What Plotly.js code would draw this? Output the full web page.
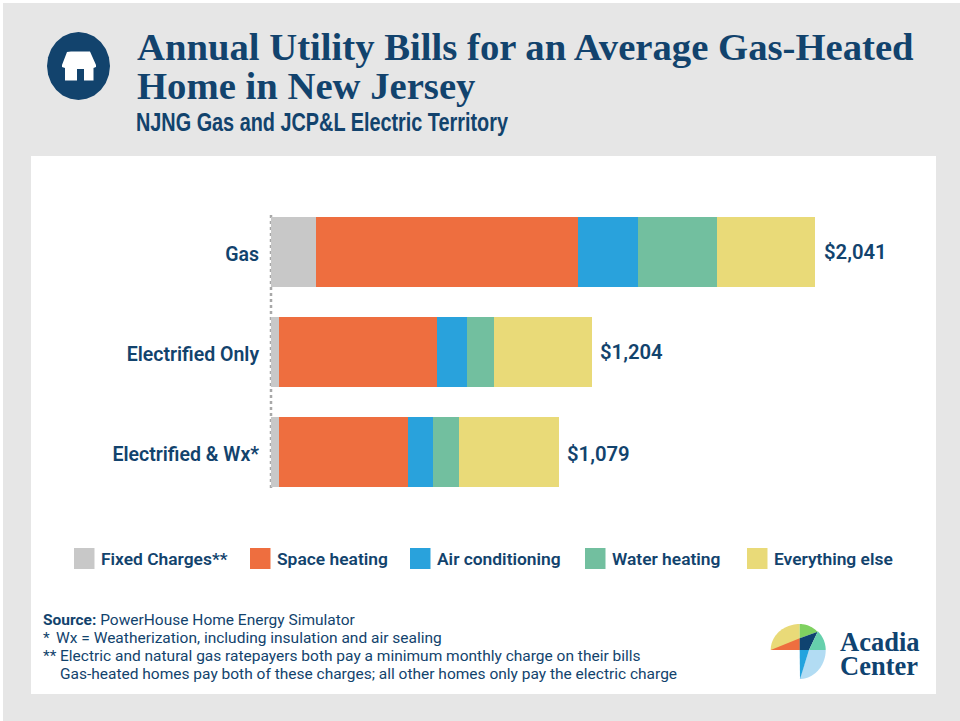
<!DOCTYPE html>
<html><head><meta charset="utf-8">
<script src="https://cdn.plot.ly/plotly-3.0.1.min.js"></script>
<style>html,body{margin:0;padding:0;background:#fff}#c{width:960px;height:721px}</style>
</head><body><div id="c"></div>
<script>
const categories = ['Gas', 'Electrified Only', 'Electrified & Wx*'];
const fixedCharges = [169, 30, 30];
const spaceHeating = [984, 591, 484];
const airConditioning = [225, 114, 95];
const waterHeating = [294, 101, 98];
const everythingElse = [369, 368, 372];
const totals = [2041, 1204, 1079];
const seriesNames = ['Fixed Charges**', 'Space heating', 'Air conditioning', 'Water heating', 'Everything else'];
const seriesValues = [fixedCharges, spaceHeating, airConditioning, waterHeating, everythingElse];
const seriesColors = ['#c8c8c8', '#ee6e3f', '#29a2dc', '#72bf9f', '#e9da78'];
const titleLine1 = 'Annual Utility Bills for an Average Gas-Heated';
const titleLine2 = 'Home in New Jersey';
const subtitleText = 'NJNG Gas and JCP&L Electric Territory';
const logoText = 'Acadia<br>Center';
const footnotes = [
  ['<b>Source:</b> PowerHouse Home Energy Simulator', 41, 620],
  ['*', 41, 638], ['Wx = Weatherization, including insulation and air sealing', 53.5, 638],
  ['**', 41, 656], ['Electric and natural gas ratepayers both pay a minimum monthly charge on their bills', 58, 656],
  ['Gas-heated homes pay both of these charges; all other homes only pay the electric charge', 58, 674]
];
const legendX = [74, 250, 410, 585, 747];

const W = 960, H = 721, NAVY = '#12436d', ML = 271, MT = 202, MB = 219, MR = 60;
const PW = W - ML - MR, PH = H - MT - MB;
const px = x => (x - ML) / PW, py = y => 1 - (y - MT) / PH;
const PXPERUNIT = 544 / 2041;

function rect(x0, y0, x1, y1, color, layer) {
  return {type: 'rect', xref: 'paper', yref: 'paper', x0: px(x0), x1: px(x1), y0: py(y0), y1: py(y1),
    fillcolor: color, line: {width: 0}, layer: layer || 'below'};
}
function poly(pts, color) {
  const d = pts.map((p, i) => (i ? 'L' : 'M') + px(p[0]).toFixed(5) + ',' + py(p[1]).toFixed(5)).join(' ') + ' Z';
  return {type: 'path', xref: 'paper', yref: 'paper', path: d, fillcolor: color, line: {width: 0}, layer: 'above'};
}
function arc(cx, cy, rx, ry, a0, a1) {
  const out = [];
  for (let i = 0; i <= 24; i++) {
    const a = (a0 + (a1 - a0) * i / 24) * Math.PI / 180;
    out.push([cx + rx * Math.cos(a), cy + ry * Math.sin(a)]);
  }
  return out;
}

const traces = seriesNames.map((name, i) => ({
  type: 'bar', orientation: 'h', name, y: categories, x: seriesValues[i],
  width: 0.7, marker: {color: seriesColors[i], line: {width: 0}}, hoverinfo: 'name+x'
}));

const font = 'Roboto, sans-serif';
const serif = '"Liberation Serif", serif';
const annotations = [];
totals.forEach((t, i) => annotations.push({
  xref: 'x', yref: 'y', x: t, y: categories[i], xanchor: 'left', yanchor: 'middle', xshift: 6.5, yshift: i === 2 ? -2 : 0,
  text: '$' + t.toLocaleString('en-US'), showarrow: false,
  font: {family: font, size: 20.3, color: NAVY, weight: 600}
}));
annotations.push({xref: 'paper', yref: 'paper', x: px(134.5), y: py(86), xanchor: 'left', yanchor: 'middle',
  text: titleLine2, showarrow: false, font: {family: serif, size: 38.7, color: NAVY, weight: 700}});
annotations.push({xref: 'paper', yref: 'paper', x: px(133.5), y: py(122), xanchor: 'left', yanchor: 'middle',
  text: subtitleText, showarrow: false, font: {family: '"Liberation Sans", sans-serif', size: 25, color: NAVY, weight: 700}});
seriesNames.forEach((n, i) => annotations.push({xref: 'paper', yref: 'paper', x: px(legendX[i] + 25), y: py(559),
  xanchor: 'left', yanchor: 'middle', text: n, showarrow: false, font: {family: font, size: 17.4, color: NAVY, weight: 600}}));
footnotes.forEach(f => annotations.push({xref: 'paper', yref: 'paper', x: px(f[1]), y: py(f[2]), xanchor: 'left', yanchor: 'middle',
  text: f[0], showarrow: false, font: {family: font, size: 15.5, color: NAVY}}));
annotations.push({xref: 'paper', yref: 'paper', x: px(838), y: py(659), xanchor: 'left', yanchor: 'middle', align: 'left',
  text: logoText, showarrow: false, font: {family: serif, size: 26.5, color: '#0f4370', weight: 700}});

const shapes = [
  rect(3, 3, 960, 721, '#e6e6e6'),
  rect(31, 156, 936, 694, '#ffffff'),
  {type: 'line', xref: 'paper', yref: 'paper', x0: px(271), x1: px(271), y0: py(215), y1: py(490), layer: 'below',
    line: {color: '#a8a8a8', width: 2.5, dash: 'dot'}},
  poly(arc(78.5, 66, 31.5, 34, 0, 360), NAVY),
  poly([[71, 51.5], [90, 51.5], [96, 65], [96, 67], [93.5, 68], [93.5, 80.5], [84, 80.5], [84, 69], [77, 69], [77, 80.5], [65, 80.5], [65, 68], [62, 67], [62, 65], [67, 52]], '#ffffff')
];
seriesColors.forEach((c, i) => shapes.push(rect(legendX[i], 548, legendX[i] + 20.5, 569, c)));

// Acadia Center logo
const ac = [799.7, 650];
shapes.push(poly([ac].concat(arc(ac[0], ac[1], 29, 26, 180, 270)), '#e9da78'));
shapes.push(poly([[770.7, 650], [799.7, 650], [799.7, 638.3]], '#ee6e3f'));
shapes.push(poly([[799.7, 638.3]].concat(arc(ac[0], ac[1], 25, 26, 270, 318)).concat([[817.7, 631.7]]), '#7fd160'));
shapes.push(poly([[799.7, 638.3], [817.7, 631.7], [809, 650], [799.7, 650]], '#0f4370'));
shapes.push(poly([[809, 650], [817.7, 631.7]].concat(arc(ac[0], ac[1], 26, 26, 315, 360)), '#66d0ac'));
shapes.push(poly([[809, 650]].concat(arc(ac[0], ac[1], 26, 29, 0, 90)), '#b2dcf3'));
shapes.push(poly([[799.7, 650], [809, 650], [800, 679]], '#22a3de'));

Plotly.newPlot('c', traces, {
  width: W, height: H, autosize: false, barmode: 'stack', showlegend: false,
  paper_bgcolor: '#ffffff', plot_bgcolor: 'rgba(0,0,0,0)',
  margin: {l: ML, r: MR, t: MT, b: MB, pad: 0},
  title: {text: titleLine1, xref: 'container', yref: 'container', x: 137 / W, y: 1 - 46 / H, xanchor: 'left', yanchor: 'middle',
    font: {family: serif, size: 38.7, color: NAVY, weight: 700}},
  xaxis: {range: [0, PW / PXPERUNIT], visible: false, fixedrange: true},
  yaxis: {type: 'category', categoryorder: 'array', categoryarray: categories, autorange: false, range: [2.5, -0.5],
    showgrid: false, zeroline: false, showline: false, ticks: 'outside', ticklen: 7, tickcolor: 'rgba(0,0,0,0)', tickwidth: 0,
    ticklabelshift: -2,
    tickfont: {family: font, size: 19.5, color: NAVY, weight: 600}, fixedrange: true},
  shapes, annotations
}, {displayModeBar: false}).then(gd => {
  gd.querySelectorAll('.annotation-text').forEach(t => {
    // the subtitle's typeface in the reference is condensed: narrow the real text to its measured width
    if (t.textContent === subtitleText) {
      const w = t.getComputedTextLength(), target = 372;
      t.setAttribute('x', parseFloat(t.getAttribute('x') || 0) - (w - target) / 2);
      t.setAttribute('textLength', target);
      t.setAttribute('lengthAdjust', 'spacingAndGlyphs');
    }
    // the logo wordmark is set tighter than Plotly's fixed line height
    const lines = t.querySelectorAll('tspan.line');
    if (lines.length === 2 && t.textContent.startsWith('Acadia')) {
      lines[1].setAttribute('dy', '24');
      lines[1].setAttribute('y', lines[0].getAttribute('y'));
    }
  });
});
</script></body></html>
